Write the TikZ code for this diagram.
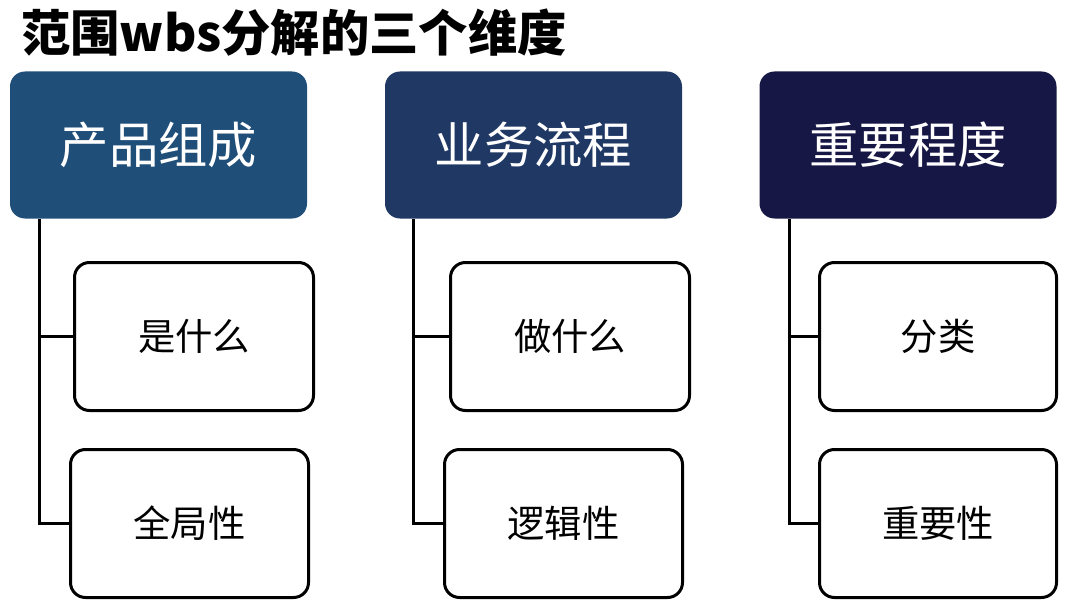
\documentclass[tikz,border=0pt]{standalone}
\usepackage{fontspec}
\setmainfont{Noto Sans CJK SC}
\definecolor{hdA}{HTML}{1F4E79}
\definecolor{hdB}{HTML}{203864}
\definecolor{hdC}{HTML}{171746}
\begin{document}
\begin{tikzpicture}[x=0.75pt,y=-0.75pt,
  header/.style={fill=#1, draw=none, rounded corners=11.25pt, text=white,
    minimum width=222.75pt, minimum height=110.25pt, inner sep=0pt,
    font=\fontsize{37}{40}\selectfont},
  child/.style={draw=black, line width=2.25pt, rounded corners=11.25pt, fill=white,
    minimum height=111pt, inner sep=0pt, font=\fontsize{28}{32}\selectfont},
  link/.style={draw=black, line width=2.25pt}]
\useasboundingbox (0,0) rectangle (1070,606);
\node[anchor=west, inner sep=0pt, font=\fontsize{37}{40}\selectfont\bfseries] (title) at (21,33) {范围wbs分解的三个维度};
% headers
\node[header=hdA] (h1) at (158.5,145) {产品组成};
\node[header=hdB] (h2) at (533.5,145) {业务流程};
\node[header=hdC] (h3) at (908,145) {重要程度};
% children
\node[child, minimum width=179.25pt] (c11) at (194,336.5) {是什么};
\node[child, minimum width=178.5pt] (c12) at (189.5,523.5) {全局性};
\node[child, minimum width=179.25pt] (c21) at (570,336.5) {做什么};
\node[child, minimum width=178.5pt] (c22) at (563.5,523.5) {逻辑性};
\node[child, minimum width=177.75pt] (c31) at (938,336.5) {分类};
\node[child, minimum width=177.75pt] (c32) at (938,523.5) {重要性};
% connector origins
\coordinate (v1) at (39,219);
\coordinate (v2) at (413,219);
\coordinate (v3) at (789,219);
\draw[link] (v1) |- (c12.west);
\draw[link] (v1 |- c11.west) -- (c11.west);
\draw[link] (v2) |- (c22.west);
\draw[link] (v2 |- c21.west) -- (c21.west);
\draw[link] (v3) |- (c32.west);
\draw[link] (v3 |- c31.west) -- (c31.west);
\end{tikzpicture}
\end{document}
